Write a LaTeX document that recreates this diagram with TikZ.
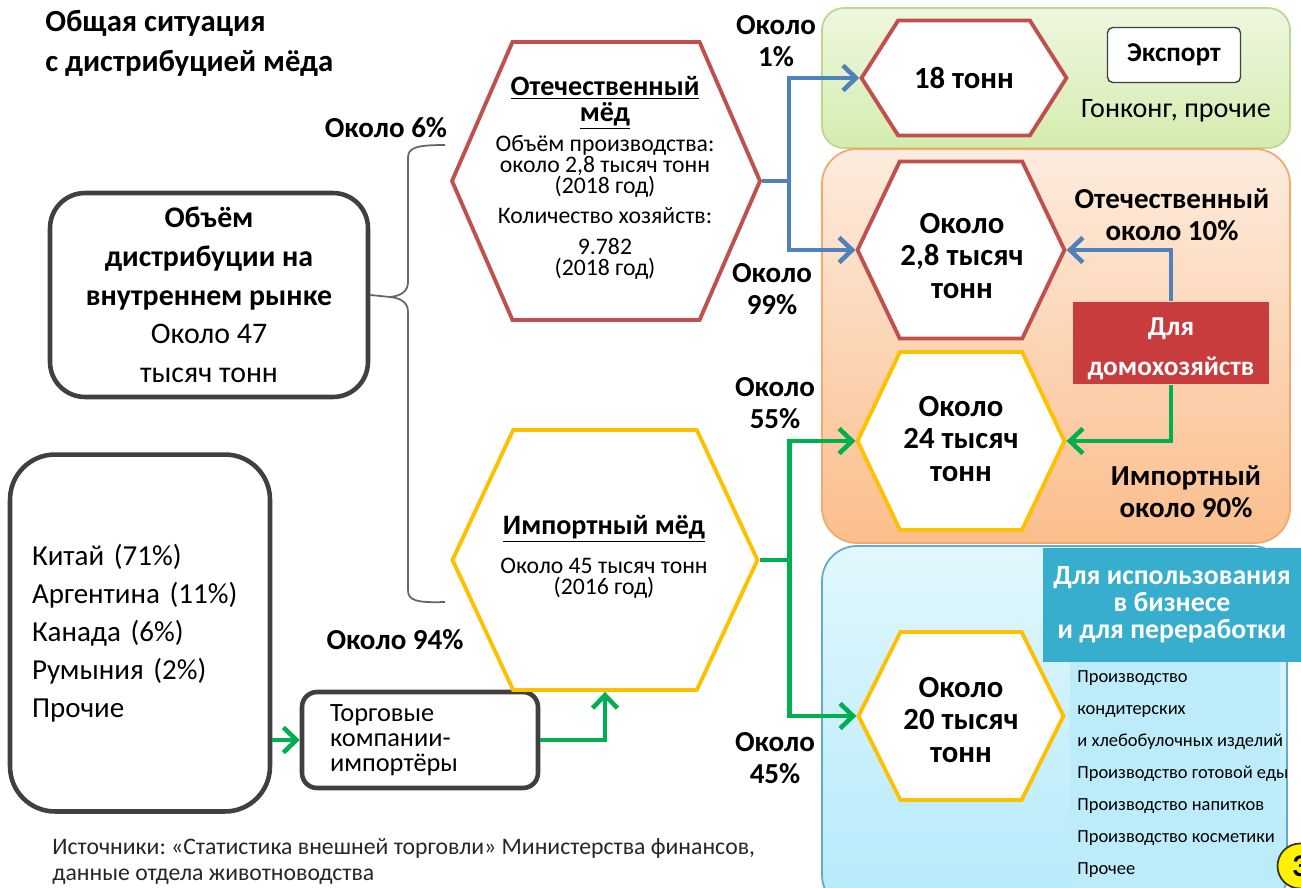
\documentclass[tikz,border=0pt]{standalone}
\usepackage{fontspec}
\setmainfont{Carlito}
\usepackage{tikz}
\usetikzlibrary{arrows.meta,positioning,shapes.symbols}
\definecolor{hexred}{RGB}{192,80,77}
\definecolor{hexyellow}{RGB}{255,192,0}
\definecolor{flowblue}{RGB}{79,129,189}
\definecolor{flowgreen}{RGB}{0,176,80}
\definecolor{boxgray}{RGB}{64,64,64}
\definecolor{homered}{RGB}{200,60,62}
\definecolor{bizteal}{RGB}{56,174,206}
\definecolor{greenA}{RGB}{238,247,224}
\definecolor{greenB}{RGB}{212,236,174}
\definecolor{greenE}{RGB}{185,218,140}
\definecolor{orangeA}{RGB}{253,236,222}
\definecolor{orangeB}{RGB}{251,190,140}
\definecolor{orangeE}{RGB}{243,168,110}
\definecolor{cyanA}{RGB}{226,247,253}
\definecolor{cyanB}{RGB}{180,234,250}
\definecolor{cyanE}{RGB}{96,172,200}
\definecolor{listcyan}{RGB}{188,236,250}
\newcommand{\fsz}[2]{\fontsize{#1}{#2}\selectfont}
\newcommand{\uhead}[1]{{\fsz{16}{15}\bfseries\underline{#1}}}
\frenchspacing

\begin{document}
\begin{tikzpicture}[x=0.02cm, y=-0.02cm,
    hexa/.style={signal, signal to=west and east, fill=white,
        line width=2.2pt, inner sep=0pt},
    hextext/.style={align=center, inner sep=0pt},
    roundbox/.style={draw=boxgray, line width=2.6pt, fill=white},
    big/.style={font=\fsz{17.5}{18.5}\bfseries},
    pct/.style={font=\fsz{16.5}{18}\bfseries, align=center},
    bflow/.style={-{Straight Barb[length=2.6mm,width=5mm]}, line width=2.6pt, flowblue},
    gflow/.style={-{Straight Barb[length=2.6mm,width=5mm]}, line width=2.6pt, flowgreen}
]
\useasboundingbox (0,0) rectangle (1301,888);
\fill[white] (0,0) rectangle (1301,888);
\draw[rounded corners=0.44cm, draw=greenE, line width=1pt, top color=greenA, bottom color=greenB] (822,8) rectangle (1290,148);
\draw[rounded corners=0.7cm, draw=orangeE, line width=1pt, top color=orangeA, bottom color=orangeB] (822,149) rectangle (1290,543);
\draw[rounded corners=0.7cm, draw=cyanE, line width=1pt, top color=cyanA, bottom color=cyanB] (822,546) rectangle (1287,910);
\fill[listcyan] (1070,662) rectangle (1280,888);

\node[anchor=north west, align=left, font=\fsz{17.5}{22.7}\bfseries, inner sep=0pt] (title) at (45,10)
    {Общая ситуация\\с дистрибуцией мёда};
\node[roundbox, rounded corners=0.7cm, minimum width=6.36cm, minimum height=4.08cm,
    align=center, font=\fsz{17}{22}] (vol) at (209,295)
    {\textbf{Объём}\\\textbf{дистрибуции на}\\\textbf{внутреннем рынке}\\Около 47\\тысяч тонн};
\node[roundbox, rounded corners=0.9cm, minimum height=7.14cm, text width=4.32cm,
    inner xsep=0.44cm, align=left, font=\fsz{16.5}{21.6}] (src) at (140,633)
    {Китай (71\%)\\Аргентина (11\%)\\Канада (6\%)\\Румыния (2\%)\\Прочие};
\node[roundbox, rounded corners=0.3cm, minimum height=1.92cm, text width=3.6cm,
    inner xsep=0.56cm, align=left, font=\fsz{15}{14.3}] (trade) at (420,740)
    {Торговые\\компании-\\импортёры};

\node[hexa, draw=hexred, signal pointer angle=133, minimum width=6.16cm, minimum height=5.56cm] (dom) at (606,181) {};
\node[hextext, font=\fsz{13.5}{12}] (domtext) at (605,178)
    {\uhead{Отечественный}\\[1pt]\uhead{мёд}\\[2pt]Объём производства:\\около 2,8 тысяч тонн\\(2018 год)\\[5pt]
     Количество хозяйств:\\[6pt]9.782\\(2018 год)};
\node[hexa, draw=hexyellow, signal pointer angle=130, minimum width=6.1cm, minimum height=5.2cm] (imp) at (605,560) {};
\node[hextext, font=\fsz{13.5}{12}] (imptext) at (604,557)
    {\uhead{Импортный мёд}\\[8pt]Около 45 тысяч тонн\\(2016 год)};

\node[hexa, draw=hexred, signal pointer angle=115, minimum width=4.1cm, minimum height=2.3cm] (t18) at (964,78) {};
\node[hextext, big] (t18text) at (964,78) {18 тонн};
\node[hexa, draw=hexred, signal pointer angle=129, minimum width=4.14cm, minimum height=3.54cm] (d28) at (961,250) {};
\node[hextext, big] (d28text) at (962,256) {Около\\2,8 тысяч\\тонн};
\node[hexa, draw=hexyellow, signal pointer angle=129, minimum width=4.14cm, minimum height=3.56cm] (i24) at (961,441) {};
\node[hextext, big] (i24text) at (961,439) {Около\\24 тысяч\\тонн};
\node[hexa, draw=hexyellow, signal pointer angle=127, minimum width=4.1cm, minimum height=3.36cm] (i20) at (961,716) {};
\node[hextext, big] (i20text) at (961,720) {Около\\20 тысяч\\тонн};

\node[draw=boxgray, line width=0.8pt, rounded corners=3pt, fill=white, minimum width=2.66cm,
    minimum height=1.1cm, font=\fsz{15.5}{16}\bfseries] (export) at (1174,55) {Экспорт};
\node[font=\fsz{16}{16}] (hk) at (1176,111) {Гонконг, прочие};
\node[fill=homered, minimum width=3.94cm, minimum height=1.66cm] (home) at (1171,343) {};
\node[text=white, align=center, font=\fsz{15.5}{22.7}\bfseries] (hometext) at (1171,349) {Для\\домохозяйств};
\node[fill=bizteal, text=white, minimum width=5.16cm, minimum height=2.28cm, align=center,
    font=\fsz{15.8}{15.4}\bfseries] (biz) at (1172,605) {Для использования\\в бизнесе\\и для переработки};
\node[anchor=north west, align=left, inner sep=0pt, font=\fsz{10.5}{18.2}] (uses) at (1077,670)
    {Производство\\кондитерских\\и хлебобулочных изделий\\Производство готовой еды\\Производство напитков\\Производство косметики\\Прочее};

\node[pct] (p6) at (386,128) {Около 6\%};
\node[pct] (p94) at (395,640) {Около 94\%};
\node[pct] (p1) at (776,41) {Около\\1\%};
\node[pct] (p99) at (772,289) {Около\\99\%};
\node[pct] (p55) at (775,403) {Около\\55\%};
\node[pct] (p45) at (775,758) {Около\\45\%};
\node[pct] (dom10) at (1172,215) {Отечественный\\около 10\%};
\node[pct] (imp90) at (1186,492) {Импортный\\около 90\%};

\node[anchor=north west, align=left, inner sep=0pt, font=\fsz{13.5}{14.8}, text=black!85] (source) at (52,838)
    {Источники: «Статистика внешней торговли» Министерства финансов,\\данные отдела животноводства};
\node[circle, fill=yellow, draw=black!80, line width=1pt, minimum size=0.9cm,
    font=\fsz{18}{18}\bfseries] (page) at (1300,866) {3};

\draw[boxgray!80, line width=1pt] (vol.east) -- (390,297)
    .. controls (400,296) and (408,292) .. (408,282) -- (408,158)
    .. controls (408,148) and (415,145) .. (445,145);
\draw[boxgray!80, line width=1pt] (390,297)
    .. controls (400,298) and (408,302) .. (408,312) -- (408,590)
    .. controls (408,600) and (415,603) .. (445,602);

\draw[bflow] (dom.east) -- ++(27,0) |- (t18.west);
\draw[bflow] (dom.east) -- ++(27,0) |- (d28.west);
\draw[gflow] (imp.east) -- ++(30,0) |- (i24.west);
\draw[gflow] (imp.east) -- ++(30,0) |- (i20.west);
\draw[bflow] (home.north) |- (d28.east);
\draw[gflow] (home.south) |- (i24.east);
\draw[gflow] (trade.west -| src.east) -- (trade.west);
\draw[gflow] (trade.east) -| (imp.south);
\end{tikzpicture}
\end{document}
